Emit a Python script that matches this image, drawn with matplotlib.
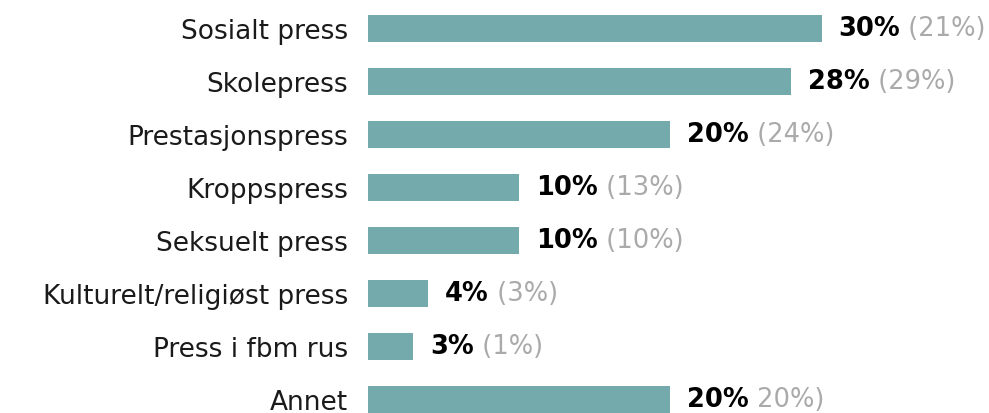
import matplotlib
matplotlib.use("Agg")
import matplotlib.pyplot as plt

categories = ["Sosialt press", "Skolepress", "Prestasjonspress", "Kroppspress",
              "Seksuelt press", "Kulturelt/religiøst press", "Press i fbm rus", "Annet"]
values = [30, 28, 20, 10, 10, 4, 3, 20]
value_labels = ["30%", "28%", "20%", "10%", "10%", "4%", "3%", "20%"]
prev_labels = ["(21%)", "(29%)", "(24%)", "(13%)", "(10%)", "(3%)", "(1%)", "20%)"]

FONT = "DejaVu Sans"
plt.rcParams["font.family"] = [FONT]

W, H, DPI = 989, 414, 100
fig = plt.figure(figsize=(W / DPI, H / DPI), dpi=DPI)
x0 = 368
ax = fig.add_axes([x0 / W, 0, 1 - x0 / W, 1])
px_per = 15.12
ax.set_xlim(0, (W - x0) / px_per)
row = 53.0
top = 29.5
ax.set_ylim((H - top) / row, -top / row)

FS_LAB = 19
FS_VAL = 18.5
ys = list(range(len(categories)))
ax.barh(ys, values, height=27 / row, color="#74AAAB")
ax.set_yticks(ys)
ax.set_yticklabels(categories, fontsize=FS_LAB, color="#1a1a1a")
ax.tick_params(axis="y", length=0, pad=14.5)
ax.set_xticks([])
for s in ax.spines.values():
    s.set_visible(False)

for y, v, lab, prev in zip(ys, values, value_labels, prev_labels):
    t = ax.annotate(lab, xy=(v, y), xytext=(12, 0), textcoords="offset points",
                    ha="left", va="center", fontsize=FS_VAL, fontweight="bold",
                    color="black", annotation_clip=False)
    ax.annotate(" " + prev, xy=(1, 0.5), xycoords=t, xytext=(0, 0),
                textcoords="offset points", ha="left", va="center",
                fontsize=FS_VAL, color="#AAAAAA", annotation_clip=False)

fig.savefig("out.png", dpi=DPI)
